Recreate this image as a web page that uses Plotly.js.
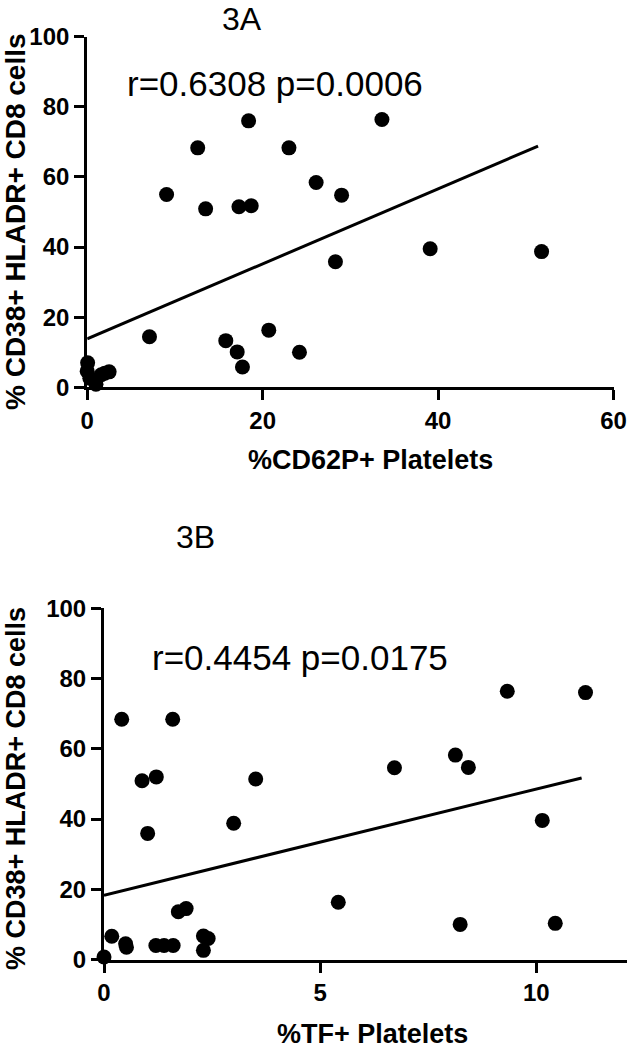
<!DOCTYPE html>
<html>
<head>
<meta charset="utf-8">
<script src="https://cdn.plot.ly/plotly-3.0.1.min.js"></script>
<style>
html,body{margin:0;padding:0;background:#fff;}
#chart{width:628px;height:1050px;}
</style>
</head>
<body>
<div id="chart"></div>
<script>
// Panel 3A: %CD62P+ Platelets vs % CD38+ HLADR+ CD8 cells
const cd62pX = [18.4, 33.6, 12.6, 23.0, 26.1, 29.0, 9.05, 13.5, 17.3, 18.7, 39.1, 51.8, 28.3, 7.1, 15.8, 20.7, 17.1, 17.7, 24.2, 0.05, 0.0, 0.3, 1.0, 1.6, 2.0, 2.5];
const cd62pY = [76.0, 76.4, 68.3, 68.3, 58.4, 54.8, 55.0, 50.9, 51.5, 51.8, 39.5, 38.7, 35.8, 14.4, 13.3, 16.3, 10.1, 5.8, 10.0, 7.0, 4.6, 2.6, 0.9, 3.6, 4.0, 4.4];
const fitAX = [0, 51.4];
const fitAY = [13.8, 68.8];
const statsA = "r=0.6308 p=0.0006";

// Panel 3B: %TF+ Platelets vs % CD38+ HLADR+ CD8 cells
const tfX = [9.33, 11.14, 0.41, 1.59, 8.13, 8.43, 6.72, 0.88, 1.21, 3.51, 3.0, 1.01, 10.14, 5.42, 8.24, 10.44, 1.72, 1.9, 0.18, 0.5, 0.52, 1.2, 1.39, 1.6, 2.3, 2.41, 2.3, 0.0];
const tfY = [76.4, 76.0, 68.4, 68.4, 58.2, 54.7, 54.6, 50.9, 52.0, 51.4, 38.8, 35.9, 39.6, 16.3, 10.0, 10.3, 13.6, 14.5, 6.6, 4.5, 3.5, 4.0, 4.0, 4.0, 6.7, 6.0, 2.6, 0.7];
const fitBX = [0, 11.05];
const fitBY = [18.3, 51.7];
const statsB = "r=0.4454 p=0.0175";

const yTicks = [0, 20, 40, 60, 80, 100];
const xTicksA = [0, 20, 40, 60];
const xTicksB = [0, 5, 10];
const yTitle = "% CD38+ HLADR+ CD8 cells";
const xTitleA = "%CD62P+ Platelets";
const xTitleB = "%TF+ Platelets";
const panelA = "3A";
const panelB = "3B";

const W = 628, H = 1050;
const FONT = "Liberation Sans, Arial, Helvetica, sans-serif";
const px = v => v / W;
const py = v => 1 - v / H;

const markerStyle = {color: '#000', size: 15, symbol: 'circle', line: {width: 0}};
const lineStyle = {color: '#000', width: 3};

const traces = [
  {x: cd62pX, y: cd62pY, type: 'scatter', mode: 'markers', marker: markerStyle, xaxis: 'x', yaxis: 'y', cliponaxis: false, hoverinfo: 'none'},
  {x: fitAX, y: fitAY, type: 'scatter', mode: 'lines', line: lineStyle, xaxis: 'x', yaxis: 'y', cliponaxis: false, hoverinfo: 'none'},
  {x: tfX, y: tfY, type: 'scatter', mode: 'markers', marker: markerStyle, xaxis: 'x2', yaxis: 'y2', cliponaxis: false, hoverinfo: 'none'},
  {x: fitBX, y: fitBY, type: 'scatter', mode: 'lines', line: lineStyle, xaxis: 'x2', yaxis: 'y2', cliponaxis: false, hoverinfo: 'none'}
];

const tickFont = {family: FONT, size: 24, color: '#000', weight: 'bold'};
const axisCommon = {
  showgrid: false, zeroline: false, showline: true, linecolor: '#000', linewidth: 3,
  ticks: 'outside', ticklen: 10, tickwidth: 3, tickcolor: '#000',
  tickfont: tickFont, tickmode: 'array', fixedrange: true
};

const layout = {
  width: W, height: H,
  margin: {l: 0, r: 0, t: 0, b: 0},
  paper_bgcolor: '#fff', plot_bgcolor: '#fff',
  showlegend: false,
  font: {family: FONT, color: '#000'},
  xaxis: Object.assign({}, axisCommon, {domain: [px(87.2), px(613.5)], range: [0, 60], tickvals: xTicksA, anchor: 'y', ticklabelstandoff: 0}),
  yaxis: Object.assign({}, axisCommon, {domain: [py(387.3), py(36.7)], range: [0, 100], tickvals: yTicks, anchor: 'x', ticklabelstandoff: 0}),
  xaxis2: Object.assign({}, axisCommon, {domain: [px(104), px(627)], range: [0, 12.1], tickvals: xTicksB, anchor: 'y2', ticklabelstandoff: 0}),
  yaxis2: Object.assign({}, axisCommon, {domain: [py(959.5), py(608.3)], range: [0, 100], tickvals: yTicks, anchor: 'x2', ticklabelstandoff: 0}),
  annotations: [
    {text: panelA, xref: 'paper', yref: 'paper', x: px(242), y: 1, xanchor: 'center', yanchor: 'top', showarrow: false, borderpad: 0, font: {family: FONT, size: 32, color: '#000'}},
    {text: panelB, xref: 'paper', yref: 'paper', x: px(195.5), y: py(537), xanchor: 'center', yanchor: 'middle', showarrow: false, font: {family: FONT, size: 32, color: '#000'}},
    {text: statsA, xref: 'paper', yref: 'paper', x: px(274.5), y: py(84), xanchor: 'center', yanchor: 'middle', showarrow: false, font: {family: FONT, size: 35, color: '#000'}},
    {text: statsB, xref: 'paper', yref: 'paper', x: px(300), y: py(657), xanchor: 'center', yanchor: 'middle', showarrow: false, font: {family: FONT, size: 35, color: '#000'}},
    {text: yTitle, xref: 'paper', yref: 'paper', x: px(16), y: py(222), xanchor: 'center', yanchor: 'middle', textangle: -90, showarrow: false, font: {family: FONT, size: 28, color: '#000', weight: 'bold'}},
    {text: yTitle, xref: 'paper', yref: 'paper', x: px(16), y: py(789), xanchor: 'center', yanchor: 'middle', textangle: -90, showarrow: false, font: {family: FONT, size: 27, color: '#000', weight: 'bold'}},
    {text: xTitleA, xref: 'paper', yref: 'paper', x: px(370), y: py(460), xanchor: 'center', yanchor: 'middle', showarrow: false, font: {family: FONT, size: 27, color: '#000', weight: 'bold'}},
    {text: xTitleB, xref: 'paper', yref: 'paper', x: px(372), y: 0, xanchor: 'center', yanchor: 'bottom', showarrow: false, borderpad: 0, font: {family: FONT, size: 27, color: '#000', weight: 'bold'}}
  ]
};

Plotly.newPlot('chart', traces, layout, {staticPlot: true, displayModeBar: false});
</script>
</body>
</html>
